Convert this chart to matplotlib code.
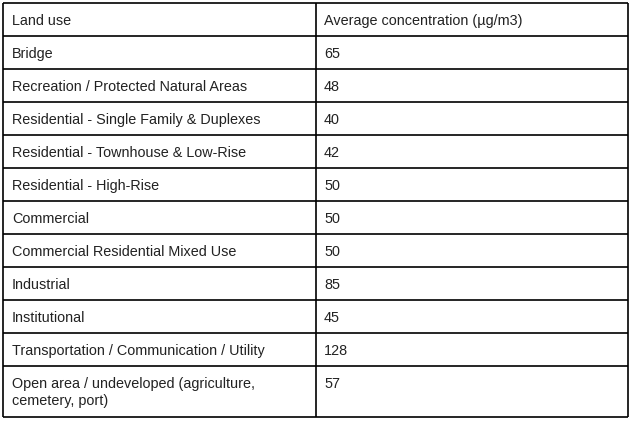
import matplotlib.pyplot as plt

# table contents
header = ["Land use", "Average concentration (\u00b5g/m3)"]
land_use = [
    "Bridge",
    "Recreation / Protected Natural Areas",
    "Residential - Single Family & Duplexes",
    "Residential - Townhouse & Low-Rise",
    "Residential - High-Rise",
    "Commercial",
    "Commercial Residential Mixed Use",
    "Industrial",
    "Institutional",
    "Transportation / Communication / Utility",
    "Open area / undeveloped (agriculture,\ncemetery, port)",
]
concentration = [65, 48, 40, 42, 50, 50, 50, 85, 45, 128, 57]

# layout in pixels
W, H = 633, 424
left, right, mid = 3, 628, 316
top = 3
row_h = 33
last_row_h = 51
line_gap = 16.5

fig = plt.figure(figsize=(W / 100, H / 100), dpi=100)
ax = fig.add_axes([0, 0, 1, 1])
ax.set_xlim(0, W)
ax.set_ylim(H, 0)
ax.axis("off")

heights = [row_h] * len(land_use)
heights[-1] = last_row_h
ys = [top, top + row_h]
for h in heights:
    ys.append(ys[-1] + h)
bottom = ys[-1]

lw = 1.2
ax.hlines(ys, left, right, color="black", lw=lw)
ax.vlines([left, mid, right], top, bottom, color="black", lw=lw)

font = dict(family=["Liberation Sans", "DejaVu Sans"], fontsize=10.4, color="#222222")

rows = [header] + [[lu, str(c)] for lu, c in zip(land_use, concentration)]
for i, (a, b) in enumerate(rows):
    y0 = ys[i] + 22
    for k, line in enumerate(a.split("\n")):
        ax.text(left + 9, y0 + k * line_gap, line, va="baseline", ha="left", **font)
    ax.text(mid + 8, y0, b, va="baseline", ha="left", **font)

fig.savefig("out.png", dpi=100)
